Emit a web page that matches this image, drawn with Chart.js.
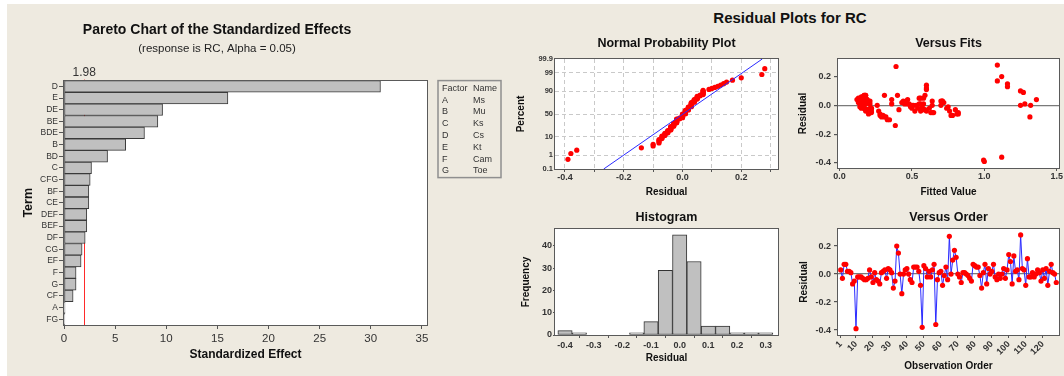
<!DOCTYPE html>
<html>
<head>
<meta charset="utf-8">
<script src="https://cdn.jsdelivr.net/npm/chart.js@4.4.0/dist/chart.umd.min.js"></script>
<style>
  html, body { margin: 0; padding: 0; background: #fff; }
  body { width: 1064px; height: 376px; position: relative; overflow: hidden; }
  #bg { position: absolute; left: 7px; top: 4px; width: 1057px; height: 372px; background: #EEEAE0; }
  canvas { position: absolute; }
  #mainTitle { position: absolute; left: 640px; top: 9px; width: 300px; text-align: center;
    font: bold 15px "Liberation Sans", Arial, sans-serif; color: #111; }
</style>
</head>
<body>
<div id="bg"></div>
<div id="mainTitle">Residual Plots for RC</div>
<canvas id="pareto" width="508" height="372" style="left:7px;top:4px"></canvas>
<canvas id="normPlot" width="270" height="170" style="left:515px;top:30px"></canvas>
<canvas id="fitsPlot" width="274" height="170" style="left:790px;top:30px"></canvas>
<canvas id="histPlot" width="270" height="176" style="left:515px;top:200px"></canvas>
<canvas id="orderPlot" width="274" height="176" style="left:790px;top:200px"></canvas>
<script>
// ---- data ----
const paretoTerms = ["D", "E", "DE", "BE", "BDE", "B", "BD", "C", "CFG", "BF", "CE", "DEF", "BEF", "DF", "CG", "EF", "F", "G", "CF", "A", "FG"];
const paretoEffects = [30.95, 16.03, 9.64, 9.18, 7.87, 6.03, 4.26, 2.69, 2.56, 2.43, 2.43, 2.23, 2.23, 2.07, 1.77, 1.67, 1.18, 1.18, 0.89, 0.10, 0.08];
const criticalEffect = 1.98;
const paretoTicks = [0, 5, 10, 15, 20, 25, 30, 35];
const factorCodes = ["A", "B", "C", "D", "E", "F", "G"];
const factorNames = ["Ms", "Mu", "Ks", "Cs", "Kt", "Cam", "Toe"];

// residuals in observation order (1..128)
const residuals = [
  0.03, -0.03, 0.07, 0.07, 0.02, 0.02, 0.01, -0.07, -0.05, -0.39,
  -0.02, -0.02, -0.02, -0.03, -0.04, -0.04, -0.03, 0.03, -0.02, -0.06,
  0.01, -0.04, -0.05, -0.07, 0.01, 0.02, 0.03, -0.03, 0.04, 0.03,
  0.01, -0.10, -0.05, 0.20, 0.15, 0.00, -0.14, 0.00, 0.03, 0.04,
  0.00, -0.04, -0.06, 0.05, 0.05, 0.05, 0.02, -0.08, -0.38, 0.06,
  0.04, -0.02, 0.02, -0.02, 0.03, 0.07, -0.36, -0.04, 0.01, 0.02,
  -0.08, -0.01, 0.05, -0.04, 0.27, 0.00, 0.10, 0.17, 0.12, 0.00,
  -0.02, -0.06, 0.01, 0.01, 0.00, -0.01, -0.03, -0.05, 0.07, 0.06,
  0.05, 0.05, -0.01, -0.10, 0.01, 0.07, -0.07, 0.04, 0.00, 0.02,
  0.07, -0.02, -0.04, 0.00, -0.03, 0.00, 0.04, -0.03, 0.03, 0.14,
  0.09, -0.07, 0.13, 0.02, 0.03, -0.04, 0.28, 0.04, 0.03, -0.08,
  0.11, -0.02, -0.02, 0.01, -0.02, 0.00, 0.03, 0.01, -0.05, 0.03,
  -0.03, 0.04, -0.08, 0.02, 0.07, 0.01, 0.00, -0.06
];
// fitted value of each observation (same order)
const fittedValues = [
  0.14, 0.19, 0.17, 0.18, 0.13, 0.20, 0.16, 0.30, 0.64, 1.00,
  0.17, 0.21, 0.50, 0.19, 0.22, 0.52, 0.18, 0.15, 0.57, 0.28,
  0.18, 0.20, 0.22, 0.77, 0.48, 0.16, 0.44, 0.58, 0.17, 0.70,
  0.55, 0.345, 0.82, 1.12, 1.16, 1.25, 0.385, 0.26, 0.46, 0.19,
  0.57, 0.60, 0.82, 0.16, 0.55, 0.18, 0.43, 0.31, 0.995, 0.16,
  0.47, 0.62, 0.72, 0.74, 0.71, 0.40, 1.12, 0.27, 1.28, 0.20,
  0.29, 0.49, 0.58, 0.56, 0.39, 1.32, 1.25, 1.09, 0.60, 0.64,
  0.15, 0.81, 0.21, 0.45, 0.53, 0.14, 0.41, 0.63, 0.59, 0.15,
  0.13, 0.56, 0.75, 0.33, 0.36, 0.17, 0.28, 0.36, 0.51, 0.19,
  0.31, 0.22, 0.76, 0.17, 0.59, 0.57, 0.12, 0.20, 0.64, 0.60,
  1.27, 0.78, 1.16, 0.46, 0.21, 0.18, 1.09, 1.36, 0.71, 0.32,
  0.60, 0.54, 0.17, 0.58, 0.22, 0.70, 0.16, 0.47, 0.65, 0.14,
  0.80, 0.19, 1.315, 0.14, 0.18, 0.56, 0.50, 0.20
];
const histCenters = [-0.40, -0.35, -0.30, -0.25, -0.20, -0.15, -0.10, -0.05, 0.00, 0.05, 0.10, 0.15, 0.20, 0.25, 0.30];
const histCounts = [2, 1, 0, 0, 0, 1, 6, 29, 45, 33, 4, 4, 1, 1, 1];
const probPercents = [0.1, 1, 10, 50, 90, 99, 99.9];
const probGridX = [-0.4, -0.3, -0.2, -0.1, 0, 0.1, 0.2, 0.3];
const probLabelX = ["-0.4", "", "-0.2", "", "0.0", "", "0.2", ""];
const residTicks = [-0.4, -0.2, 0, 0.2];
const histXTicks = [-0.4, -0.3, -0.2, -0.1, 0, 0.1, 0.2, 0.3];
const histYTicks = [0, 10, 20, 30, 40];
const fitTicks = [0, 0.5, 1.0, 1.5];
const orderTicks = [1, 10, 20, 30, 40, 50, 60, 70, 80, 90, 100, 110, 120];

Chart.defaults.font.family = '"Liberation Sans", Arial, sans-serif';
Chart.defaults.color = "#222";

// inverse normal cdf (Acklam), used for the probability axis
function normInv(p) {
  const a = [-3.969683028665376e+01, 2.209460984245205e+02, -2.759285104469687e+02, 1.383577518672690e+02, -3.066479806614716e+01, 2.506628277459239e+00];
  const b = [-5.447609879822406e+01, 1.615858368580409e+02, -1.556989798598866e+02, 6.680131188771972e+01, -1.328068155288572e+01];
  const c = [-7.784894002430293e-03, -3.223964580411365e-01, -2.400758277161838e+00, -2.549732539343734e+00, 4.374664141464968e+00, 2.938163982698783e+00];
  const d = [7.784695709041462e-03, 3.224671290700398e-01, 2.445134137142996e+00, 3.754408661907416e+00];
  const pl = 0.02425;
  let q, r;
  if (p < pl) {
    q = Math.sqrt(-2 * Math.log(p));
    return (((((c[0] * q + c[1]) * q + c[2]) * q + c[3]) * q + c[4]) * q + c[5]) / ((((d[0] * q + d[1]) * q + d[2]) * q + d[3]) * q + 1);
  }
  if (p > 1 - pl) {
    q = Math.sqrt(-2 * Math.log(1 - p));
    return -(((((c[0] * q + c[1]) * q + c[2]) * q + c[3]) * q + c[4]) * q + c[5]) / ((((d[0] * q + d[1]) * q + d[2]) * q + d[3]) * q + 1);
  }
  q = p - 0.5; r = q * q;
  return (((((a[0] * r + a[1]) * r + a[2]) * r + a[3]) * r + a[4]) * r + a[5]) * q / (((((b[0] * r + b[1]) * r + b[2]) * r + b[3]) * r + b[4]) * r + 1);
}

// white plot area + dark frame around it
const framePlugin = {
  id: "frame",
  beforeDraw(chart) {
    const { ctx, chartArea: a } = chart;
    ctx.save();
    ctx.fillStyle = "#fff";
    ctx.fillRect(a.left, a.top, a.width, a.height);
    ctx.restore();
  },
  afterDatasetsDraw(chart) {
    const { ctx, chartArea: a } = chart;
    ctx.save();
    ctx.strokeStyle = "#5a5a5a";
    ctx.lineWidth = 1;
    ctx.strokeRect(Math.round(a.left) - 0.5, Math.round(a.top) - 0.5, Math.round(a.width) + 1, Math.round(a.height) + 1);
    ctx.restore();
  }
};

// factor / name box beside the pareto chart
const factorBoxPlugin = {
  id: "factorBox",
  afterDraw(chart) {
    const { ctx, chartArea: a } = chart;
    const x = a.right + 11, y = a.top;
    ctx.save();
    ctx.strokeStyle = "#8f8f8f";
    ctx.lineWidth = 1.5;
    ctx.strokeRect(x, y, 63, 97);
    ctx.fillStyle = "#333";
    ctx.font = '9px "Liberation Sans", Arial, sans-serif';
    ctx.textBaseline = "middle";
    ctx.fillText("Factor", x + 4, y + 7.5);
    ctx.fillText("Name", x + 35, y + 7.5);
    factorCodes.forEach((code, i) => {
      const ty = y + 19.5 + i * 11.8;
      ctx.fillText(code, x + 4, ty);
      ctx.fillText(factorNames[i], x + 35, ty);
    });
    ctx.restore();
  }
};

const tickFont = { size: 9, weight: "bold" };
const axisTitleFont = { size: 10, weight: "bold" };
const plotTitleFont = { size: 12.5, weight: "bold" };

// ---- Pareto chart ----
new Chart(document.getElementById("pareto"), {
  type: "bar",
  data: {
    labels: paretoTerms,
    datasets: [{
      data: paretoEffects,
      backgroundColor: "#C0C0C0",
      borderColor: "#3a3a3a",
      borderWidth: 1,
      borderSkipped: false,
      barPercentage: 1,
      categoryPercentage: 1,
      xAxisID: "x",
      yAxisID: "y"
    }]
  },
  options: {
    indexAxis: "y",
    responsive: false,
    animation: false,
    events: [],
    layout: { padding: { left: 0, right: 88, top: 0, bottom: 0 } },
    plugins: {
      legend: { display: false },
      tooltip: { enabled: false },
      title: {
        display: true, text: "Pareto Chart of the Standardized Effects",
        font: { size: 14, weight: "bold" }, color: "#111", padding: { top: 18, bottom: 0 }
      },
      subtitle: {
        display: true, text: "(response is RC, Alpha = 0.05)",
        font: { size: 11.5 }, color: "#222", padding: { top: 3, bottom: 0 }
      }
    },
    scales: {
      x: {
        type: "linear", position: "bottom", min: 0, max: 35.5,
        afterBuildTicks: s => { s.ticks = paretoTicks.map(v => ({ value: v })); },
        afterFit: s => { s.height = 51; },
        grid: { drawOnChartArea: false, tickLength: 4, tickColor: "#555" },
        border: { display: false },
        ticks: { font: { size: 11.5 }, color: "#333", padding: 3, maxRotation: 0 },
        title: { display: true, text: "Standardized Effect", font: { size: 12, weight: "bold" }, color: "#111", padding: { top: 0, bottom: 14 } }
      },
      x2: {
        type: "linear", position: "top", min: 0, max: 35.5,
        afterBuildTicks: s => { s.ticks = [{ value: criticalEffect }]; },
        afterFit: s => { s.height = 25; },
        grid: { color: "#ff2a2a", lineWidth: 1, tickLength: 1, tickColor: "#ff2a2a" },
        border: { display: false },
        ticks: { font: { size: 12 }, color: "#333", padding: 0, callback: v => v.toFixed(2) }
      },
      y: {
        type: "category",
        afterFit: s => { s.width = 57; },
        grid: { drawOnChartArea: false, offset: false, tickLength: 5, tickColor: "#555" },
        border: { display: false },
        ticks: { font: { size: 8.5 }, color: "#333", padding: 1, autoSkip: false },
        title: { display: true, text: "Term", font: { size: 12.5, weight: "bold" }, color: "#111", padding: { top: 14, bottom: 0 } }
      }
    }
  },
  plugins: [framePlugin, factorBoxPlugin]
});

// ---- Normal probability plot ----
const sortedRes = residuals.slice().sort((p, q) => p - q);
const nObs = sortedRes.length;
const probPoints = sortedRes.map((r, i) => ({ x: r, y: normInv((i + 1 - 0.3) / (nObs + 0.4)) }));
const resMean = residuals.reduce((s, v) => s + v, 0) / nObs;
const resSd = Math.sqrt(residuals.reduce((s, v) => s + (v - resMean) * (v - resMean), 0) / (nObs - 1));
const zEdge = normInv(0.999);
const fitLine = [{ x: resMean - zEdge * resSd, y: -zEdge }, { x: resMean + zEdge * resSd, y: zEdge }];

new Chart(document.getElementById("normPlot"), {
  type: "scatter",
  data: {
    datasets: [
      { type: "line", data: fitLine, borderColor: "#2b2bff", borderWidth: 1, pointRadius: 0, fill: false },
      { data: probPoints, backgroundColor: "#ff0000", borderColor: "#ff0000", pointRadius: 2.6, borderWidth: 0 }
    ]
  },
  options: {
    responsive: false, animation: false, events: [],
    layout: { padding: { left: 0, right: 7, top: 0, bottom: 0 } },
    plugins: {
      legend: { display: false }, tooltip: { enabled: false },
      title: { display: true, fullSize: false, text: "Normal Probability Plot", font: plotTitleFont, color: "#111", padding: { top: 6, bottom: 8 } }
    },
    scales: {
      x: {
        type: "linear", min: -0.434, max: 0.325,
        afterBuildTicks: s => { s.ticks = probGridX.map(v => ({ value: v })); },
        afterFit: s => { s.height = 31; },
        grid: { color: "#c9c9c9", tickLength: 3, tickColor: "#555" },
        border: { display: false, dash: [4, 3] },
        ticks: { font: tickFont, color: "#333", padding: 0, maxRotation: 0, autoSkip: false, callback: (v, i) => probLabelX[i] },
        title: { display: true, text: "Residual", font: axisTitleFont, color: "#111", padding: { top: 0, bottom: 2 } }
      },
      y: {
        type: "linear", min: -zEdge, max: zEdge,
        afterBuildTicks: s => { s.ticks = probPercents.map(p => ({ value: normInv(p / 100) })); },
        afterFit: s => { s.width = 40; },
        grid: { color: "#c9c9c9", drawTicks: false },
        border: { display: false, dash: [4, 3] },
        ticks: { font: { size: 7.5, weight: "bold" }, color: "#333", padding: 2, autoSkip: false, callback: (v, i) => String(probPercents[i]) },
        title: { display: true, text: "Percent", font: axisTitleFont, color: "#111", padding: { top: 0, bottom: 0 } }
      }
    }
  },
  plugins: [framePlugin]
});

// zero reference line colour for residual axes
const zeroLine = ctx => (ctx.tick && Math.abs(ctx.tick.value) < 1e-9 ? "#7a7a7a" : "rgba(0,0,0,0)");

// ---- Versus fits ----
new Chart(document.getElementById("fitsPlot"), {
  type: "scatter",
  data: {
    datasets: [{
      data: fittedValues.map((f, i) => ({ x: f, y: residuals[i] })),
      backgroundColor: "#ff0000", borderColor: "#ff0000", pointRadius: 2.6, borderWidth: 0
    }]
  },
  options: {
    responsive: false, animation: false, events: [],
    layout: { padding: { left: 0, right: 5, top: 0, bottom: 0 } },
    plugins: {
      legend: { display: false }, tooltip: { enabled: false },
      title: { display: true, fullSize: false, text: "Versus Fits", font: plotTitleFont, color: "#111", padding: { top: 6, bottom: 8 } }
    },
    scales: {
      x: {
        type: "linear", min: -0.011, max: 1.516,
        afterBuildTicks: s => { s.ticks = fitTicks.map(v => ({ value: v })); },
        afterFit: s => { s.height = 32; },
        grid: { drawOnChartArea: false, tickLength: 3, tickColor: "#555" },
        border: { display: false },
        ticks: { font: tickFont, color: "#333", padding: 0, maxRotation: 0, callback: v => v.toFixed(1) },
        title: { display: true, text: "Fitted Value", font: axisTitleFont, color: "#111", padding: { top: 0, bottom: 2 } }
      },
      y: {
        type: "linear", min: -0.435, max: 0.322,
        afterBuildTicks: s => { s.ticks = residTicks.map(v => ({ value: v })); },
        afterFit: s => { s.width = 48; },
        grid: { color: zeroLine, lineWidth: 1.2, tickLength: 4, tickColor: "#555" },
        border: { display: false },
        ticks: { font: tickFont, color: "#333", padding: 3, callback: v => v.toFixed(1) },
        title: { display: true, text: "Residual", font: axisTitleFont, color: "#111", padding: { top: 7, bottom: 0 } }
      }
    }
  },
  plugins: [framePlugin]
});

// ---- Histogram ----
new Chart(document.getElementById("histPlot"), {
  type: "bar",
  data: {
    datasets: [{
      data: histCenters.map((c, i) => ({ x: c, y: histCounts[i] })),
      backgroundColor: "#C0C0C0", borderColor: "#333", borderWidth: 1, borderSkipped: false,
      barPercentage: 1, categoryPercentage: 1
    }]
  },
  options: {
    responsive: false, animation: false, events: [],
    layout: { padding: { left: 0, right: 7, top: 0, bottom: 0 } },
    plugins: {
      legend: { display: false }, tooltip: { enabled: false },
      title: { display: true, fullSize: false, text: "Histogram", font: plotTitleFont, color: "#111", padding: { top: 10, bottom: 4 } }
    },
    scales: {
      x: {
        type: "linear", min: -0.435, max: 0.343, offset: false,
        afterBuildTicks: s => { s.ticks = histXTicks.map(v => ({ value: v })); },
        afterFit: s => { s.height = 41; },
        grid: { drawOnChartArea: false, tickLength: 3, tickColor: "#555" },
        border: { display: false },
        ticks: { font: tickFont, color: "#333", padding: 2, maxRotation: 0, callback: v => v.toFixed(1) },
        title: { display: true, text: "Residual", font: axisTitleFont, color: "#111", padding: { top: 0, bottom: 12 } }
      },
      y: {
        type: "linear", min: 0, max: 47.6,
        afterBuildTicks: s => { s.ticks = histYTicks.map(v => ({ value: v })); },
        afterFit: s => { s.width = 40; },
        grid: { drawOnChartArea: false, tickLength: 2, tickColor: "#555" },
        border: { display: false },
        ticks: { font: tickFont, color: "#333", padding: 1 },
        title: { display: true, text: "Frequency", font: axisTitleFont, color: "#111", padding: { top: 5, bottom: 0 } }
      }
    }
  },
  plugins: [framePlugin]
});

// ---- Versus order ----
new Chart(document.getElementById("orderPlot"), {
  type: "line",
  data: {
    datasets: [{
      data: residuals.map((r, i) => ({ x: i + 1, y: r })),
      borderColor: "#2b2bff", borderWidth: 1, tension: 0,
      pointBackgroundColor: "#ff0000", pointBorderColor: "#ff0000", pointRadius: 2.6, pointBorderWidth: 0
    }]
  },
  options: {
    responsive: false, animation: false, events: [],
    layout: { padding: { left: 0, right: 5, top: 0, bottom: 0 } },
    plugins: {
      legend: { display: false }, tooltip: { enabled: false },
      title: { display: true, fullSize: false, text: "Versus Order", font: plotTitleFont, color: "#111", padding: { top: 10, bottom: 4 } }
    },
    scales: {
      x: {
        type: "linear", min: -0.6, max: 129.6,
        afterBuildTicks: s => { s.ticks = orderTicks.map(v => ({ value: v })); },
        afterFit: s => { s.height = 41; },
        grid: { drawOnChartArea: false, tickLength: 3, tickColor: "#555" },
        border: { display: false },
        ticks: { font: tickFont, color: "#333", padding: 1, minRotation: 45, maxRotation: 45, autoSkip: false },
        title: { display: true, text: "Observation Order", font: axisTitleFont, color: "#111", padding: { top: 0, bottom: 4 } }
      },
      y: {
        type: "linear", min: -0.435, max: 0.322,
        afterBuildTicks: s => { s.ticks = residTicks.map(v => ({ value: v })); },
        afterFit: s => { s.width = 48; },
        grid: { color: zeroLine, lineWidth: 1.2, tickLength: 4, tickColor: "#555" },
        border: { display: false },
        ticks: { font: tickFont, color: "#333", padding: 3, callback: v => v.toFixed(1) },
        title: { display: true, text: "Residual", font: axisTitleFont, color: "#111", padding: { top: 8, bottom: 0 } }
      }
    }
  },
  plugins: [framePlugin]
});
</script>
</body>
</html>
